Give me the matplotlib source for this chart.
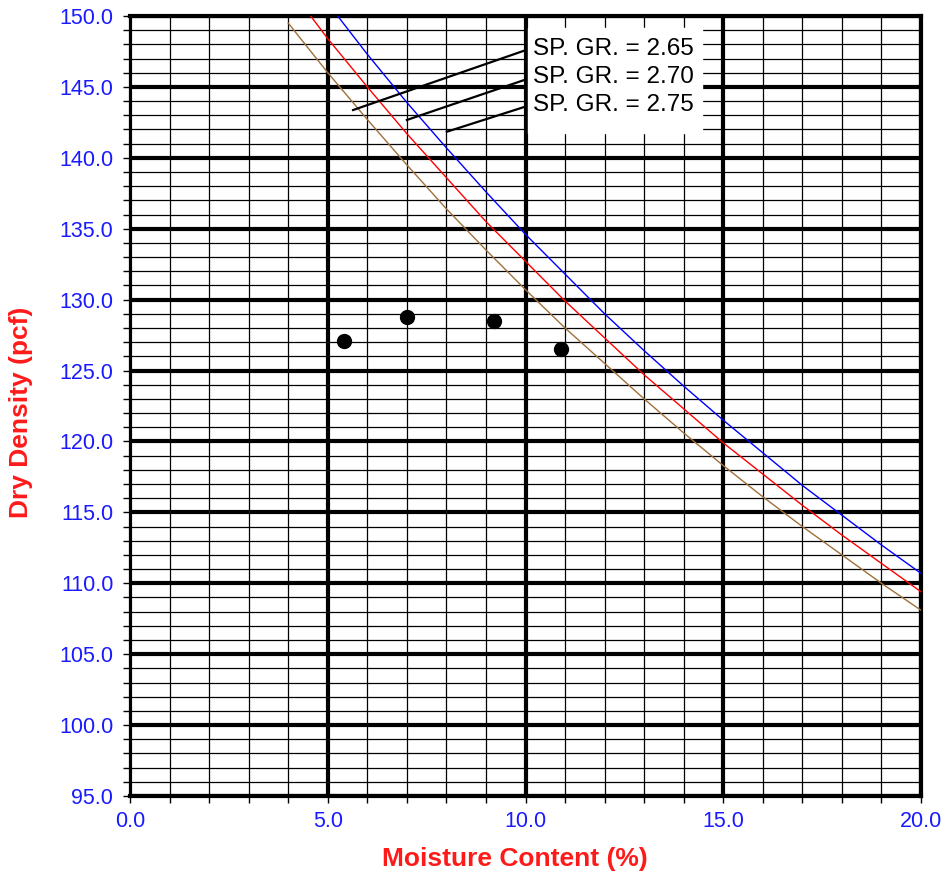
import matplotlib.pyplot as plt
from matplotlib.ticker import MultipleLocator, FormatStrFormatter

plt.rcParams["font.family"] = ["Liberation Sans", "DejaVu Sans"]

# zero air voids curves
moisture = [4, 5, 6, 7, 8, 9, 10, 11, 12, 13, 14, 15, 16, 17, 18, 19, 20]
zav_265 = [149.5, 146.0, 142.7, 139.5, 136.4, 133.5, 130.7, 128.0, 125.5,
           123.0, 120.6, 118.3, 116.1, 114.0, 112.0, 110.0, 108.1]
zav_270 = [152.1, 148.4, 145.0, 141.7, 138.6, 135.5, 132.7, 129.9, 127.3,
           124.7, 122.3, 119.9, 117.7, 115.5, 113.4, 111.4, 109.4]
zav_275 = [155.1, 150.9, 147.3, 143.9, 140.7, 137.6, 134.6, 131.8, 129.0,
           126.4, 123.9, 121.5, 119.2, 116.9, 114.8, 112.7, 110.7]

# test points
test_w = [5.4, 7.0, 9.2, 10.9]
test_dd = [127.1, 128.8, 128.5, 126.5]

labels = ["SP. GR. = 2.65", "SP. GR. = 2.70", "SP. GR. = 2.75"]

fig = plt.figure(figsize=(9.43, 8.74), dpi=100)
ax = fig.add_axes([0.1379, 0.0892, 0.8388, 0.8925])

ax.set_xlim(0, 20)
ax.set_ylim(95, 150)
ax.xaxis.set_major_locator(MultipleLocator(5))
ax.xaxis.set_minor_locator(MultipleLocator(1))
ax.yaxis.set_major_locator(MultipleLocator(5))
ax.yaxis.set_minor_locator(MultipleLocator(1))
ax.xaxis.set_major_formatter(FormatStrFormatter("%.1f"))
ax.yaxis.set_major_formatter(FormatStrFormatter("%.1f"))

ax.grid(which="major", color="black", linewidth=3.0, zorder=1)
ax.grid(which="minor", color="black", linewidth=0.9, zorder=1)
ax.set_axisbelow(True)

ax.tick_params(which="both", direction="out", colors="black",
               labelcolor="#1a1aff", labelsize=15.5, length=5, width=1)
ax.tick_params(axis="y", which="major", pad=7)
ax.tick_params(axis="x", which="major", pad=6)

for side in ["top", "right", "bottom"]:
    ax.spines[side].set_linewidth(3.0)
ax.spines["left"].set_linewidth(1.6)

ax.plot(moisture, zav_265, color="#a0703a", linewidth=1.0, zorder=3)
ax.plot(moisture, zav_270, color="red", linewidth=1.0, zorder=3)
ax.plot(moisture, zav_275, color="blue", linewidth=1.0, zorder=3)

ax.plot(test_w, test_dd, "o", color="black", markersize=10, zorder=4)

# label box
ax.fill_between([10.05, 14.47], 141.75, 149.15, color="white", zorder=5)
text_y = [147.25, 145.3, 143.3]
for lab, ty in zip(labels, text_y):
    ax.text(10.2, ty, lab, fontsize=17.5, color="black", zorder=6,
            va="baseline", ha="left")

# leader lines
ax.plot([5.64, 9.94], [143.37, 147.53], color="black", linewidth=1.6, zorder=6)
ax.plot([7.00, 9.94], [142.67, 145.46], color="black", linewidth=1.6, zorder=6)
ax.plot([8.01, 9.94], [141.84, 143.56], color="black", linewidth=1.6, zorder=6)

ax.set_xlabel("Moisture Content (%)", color="#ff1a1a", fontsize=19,
              fontweight="bold")
ax.set_ylabel("Dry Density (pcf)", color="#ff1a1a", fontsize=19,
              fontweight="bold")
ax.xaxis.set_label_coords(0.486, -0.065)
ax.yaxis.set_label_coords(-0.1226, 0.492)

fig.savefig("out.png", dpi=100)
